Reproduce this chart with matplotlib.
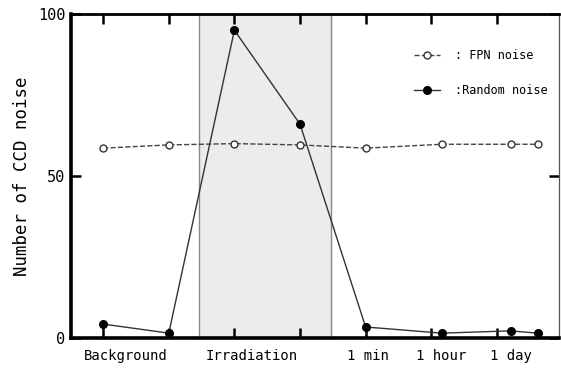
import matplotlib.pyplot as plt
from matplotlib.lines import Line2D

# data
fpn_x = [0, 1, 2, 3, 4, 5.16, 6.21, 6.62]
fpn_y = [58.6, 59.6, 60.0, 59.6, 58.6, 59.8, 59.8, 59.8]
rnd_x = [0, 1, 2, 3, 4, 5.16, 6.21, 6.62]
rnd_y = [4.3, 1.5, 95.0, 66.0, 3.4, 1.5, 2.2, 1.5]
shade = [1.46, 3.47]
label_pos = [0.35, 2.27, 4.03, 5.15, 6.22]
label_txt = ['Background', 'Irradiation', '1 min', '1 hour', '1 day']

plt.rcParams['font.family'] = ['DejaVu Sans Mono']

fig = plt.figure(figsize=(5.61, 3.69), dpi=100)
ax = fig.add_axes([0.1266, 0.084, 0.869, 0.878])

ax.axvspan(shade[0], shade[1], facecolor='#ececec', edgecolor='#888888', lw=1, zorder=0)

ax.plot(fpn_x, fpn_y, ls='--', color='#444444', lw=1, marker='o', ms=5,
        mfc='white', mec='#333333', mew=1, zorder=3)
ax.plot(rnd_x, rnd_y, ls='-', color='#333333', lw=1, marker='o', ms=5.5,
        mfc='black', mec='black', zorder=4)

ax.set_xlim(-0.49, 6.94)
ax.set_ylim(0, 100)

ax.set_xticks(range(7))
ax.set_xticklabels([])
ax.set_xticks(label_pos, minor=True)
ax.set_xticklabels(label_txt, minor=True, fontsize=10)
ax.tick_params(axis='x', which='minor', length=0, pad=8)
ax.tick_params(axis='x', which='major', direction='in', length=7, width=1.8,
               top=True, bottom=True)
ax.set_yticks([0, 50, 100])
ax.set_yticklabels(['0', '50', '100'], fontsize=11)
ax.tick_params(axis='y', direction='in', length=7, width=1.8, left=True, right=True, pad=4)

for s in ['left', 'bottom']:
    ax.spines[s].set_linewidth(2.6)
ax.spines['top'].set_linewidth(2.0)
ax.spines['right'].set_linewidth(0.9)
ax.spines['right'].set_color('#555555')

ax.set_ylabel('Number of CCD noise', fontsize=12.5, labelpad=5)

handles = [
    Line2D([], [], ls='--', color='#444444', lw=1, marker='o', ms=5, mfc='white', mec='#333333'),
    Line2D([], [], ls='-', color='#333333', lw=1, marker='o', ms=5.5, mfc='black', mec='black'),
]
ax.legend(handles, [': FPN noise', ':Random noise'], loc='upper right',
          bbox_to_anchor=(1.0, 0.925), frameon=False, fontsize=8.5,
          handlelength=2.2, handletextpad=1.3, labelspacing=1.9)

fig.savefig('out.png', dpi=100)
